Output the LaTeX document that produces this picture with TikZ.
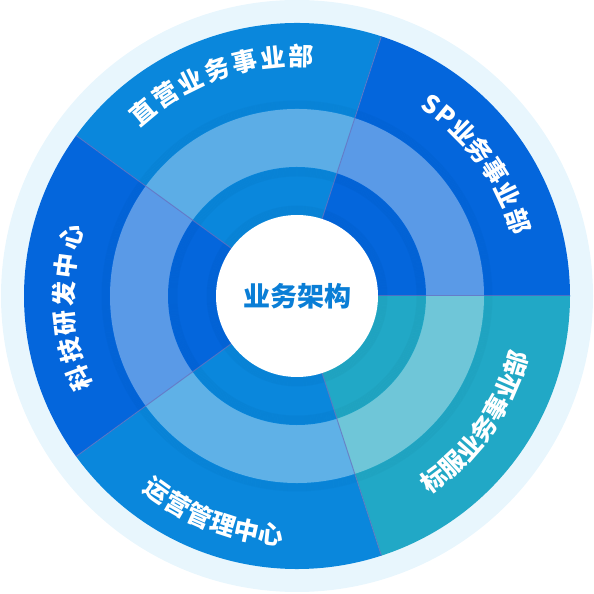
\documentclass[tikz,border=0pt]{standalone}
\usepackage{fontspec}
\newfontfamily\cjk{Noto Sans CJK SC}
\definecolor{bgring}{HTML}{E8F6FD}
\definecolor{oA}{HTML}{0A87DC}
\definecolor{oB}{HTML}{0466DC}
\definecolor{oC}{HTML}{21A8C6}
\definecolor{mA}{HTML}{5CADE6}
\definecolor{mA2}{HTML}{5FB1E7}
\definecolor{mB}{HTML}{5A9AE7}
\definecolor{mC}{HTML}{6FC6D8}
\definecolor{sep}{HTML}{6A6FBE}
\definecolor{ctext}{HTML}{0A7ED6}
\begin{document}
\begin{tikzpicture}[x=1pt,y=1pt,
  lab/.style={text=white,inner sep=0pt,font=\cjk\bfseries\fontsize{25}{25}\selectfont},
  sepline/.style={draw=sep,line width=1pt,opacity=0.7}]
\useasboundingbox (0,0) rectangle (594,594);
\coordinate (O) at (297,298);
\fill[bgring] (O) circle (296);
% outer ring
\foreach \a/\co in {0/oB,72/oA,144/oB,216/oA,288/oC}{
  \fill[\co] (O) -- ([shift={(\a:273)}]O) arc[start angle=\a,delta angle=72,radius=273] -- cycle;}
% shadow of outer ring onto middle
\foreach \k in {1,...,8}{
  \draw[black,opacity=0.02,line width=1pt] (O) circle (187+\k);}
% middle ring
\foreach \a/\co in {0/mB,72/mA,144/mB,216/mA2,288/mC}{
  \fill[\co] (O) -- ([shift={(\a:187)}]O) arc[start angle=\a,delta angle=72,radius=187] -- cycle;}
% inner ring
\foreach \a/\co in {0/oB,72/oA,144/oB,216/oA,288/oC}{
  \fill[\co] (O) -- ([shift={(\a:129)}]O) arc[start angle=\a,delta angle=72,radius=129] -- cycle;}
\foreach \k in {1,...,9}{
  \draw[black,opacity=0.022,line width=1pt] (O) circle (129-\k);
  \draw[black,opacity=0.022,line width=1pt] (O) circle (81+\k);}
% separators
\foreach \a in {0,72,144,216,288}{
  \draw[sepline] ([shift={(\a:81)}]O) -- ([shift={(\a:273)}]O);}
% centre
\fill[white] (O) circle (81);
\node[inner sep=0pt,text=ctext,font=\cjk\bfseries\fontsize{27}{27}\selectfont] (centre) at (O) {业务架构};
% clockwise labels (tops outward)
\foreach \ch/\ang [count=\i] in {直/130,营/123.2,业/116.3,务/109.5,事/102.7,业/95.8,部/89}{
  \node[lab,rotate=\ang-90] (zy\i) at ([shift={(\ang:240)}]O) {\ch};}
\foreach \ch/\ang [count=\i] in {S/55,P/50.4,业/44.7,务/38.5,事/32.2,业/25.6,部/18.6}{
  \node[lab,rotate=\ang-90] (sp\i) at ([shift={(\ang:234)}]O) {\ch};}
\foreach \ch/\ang [count=\i] in {科/200.6,技/193.6,研/186.6,发/179.6,中/172.6,心/165.4}{
  \node[lab,rotate=\ang-90] (kj\i) at ([shift={(\ang:233)}]O) {\ch};}
% counter-clockwise labels (tops inward)
\foreach \ch/\ang [count=\i] in {标/-53.3,服/-47.3,业/-41.3,务/-35.3,事/-29.3,业/-23.3,部/-17.1}{
  \node[lab,rotate=\ang+90] (bf\i) at ([shift={(\ang:229)}]O) {\ch};}
\foreach \ch/\ang [count=\i] in {运/234.3,营/240.2,管/246.1,理/252,中/257.9,心/263.8}{
  \node[lab,rotate=\ang+90] (yy\i) at ([shift={(\ang:240)}]O) {\ch};}
\end{tikzpicture}
\end{document}
